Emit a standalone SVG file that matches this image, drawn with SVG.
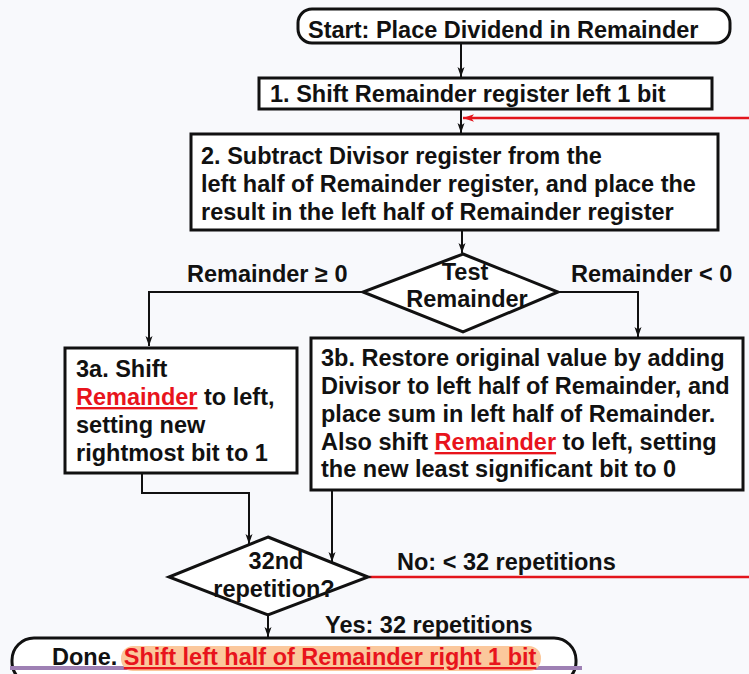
<svg xmlns="http://www.w3.org/2000/svg" width="749" height="674" viewBox="0 0 749 674">
<defs>
<style>
text{font-family:"Liberation Sans",Arial,sans-serif;font-weight:bold;font-size:23.5px;fill:#111}
.box{fill:#fff;stroke:#111;stroke-width:3}
.c{fill:none;stroke:#111;stroke-width:2}
.r{fill:none;stroke:#e3151c;stroke-width:2.5}
.red{fill:#e8141c;text-decoration:underline}
.mid{text-anchor:middle}
</style>
<marker id="ah" viewBox="0 0 10 10" refX="10" refY="5" markerWidth="10" markerHeight="10" markerUnits="userSpaceOnUse" orient="auto">
<path d="M0,1.5 L10,5 L0,8.5 L2.5,5 Z" fill="#111"/>
</marker>
<marker id="ahr" viewBox="0 0 10 10" refX="10" refY="5" markerWidth="11" markerHeight="11" markerUnits="userSpaceOnUse" orient="auto">
<path d="M0,1.5 L10,5 L0,8.5 L2.5,5 Z" fill="#e3151c"/>
</marker>
</defs>
<rect x="0" y="0" width="749" height="674" fill="#f8f9fc"/>

<g id="connectors">
<line class="c" x1="461" y1="43" x2="461" y2="77" marker-end="url(#ah)"/>
<line class="c" x1="461" y1="109" x2="461" y2="133" marker-end="url(#ah)"/>
<line class="r" x1="749" y1="118" x2="463" y2="118" marker-end="url(#ahr)"/>
<line class="c" x1="462" y1="230" x2="462" y2="253" marker-end="url(#ah)"/>
<polyline class="c" points="363,292 149,292 149,346" marker-end="url(#ah)"/>
<polyline class="c" points="558,292 638,292 638,337" marker-end="url(#ah)"/>
<polyline class="c" points="142,473 142,493 249,493 249,544" marker-end="url(#ah)"/>
<line class="c" x1="332" y1="490" x2="332" y2="562" marker-end="url(#ah)"/>
<line class="r" x1="369" y1="577" x2="749" y2="577"/>
<line class="c" x1="268" y1="615" x2="268" y2="637" marker-end="url(#ah)"/>
<text x="187" y="282">Remainder ≥ 0</text>
<text x="571" y="282">Remainder &lt; 0</text>
<text x="397" y="570">No: &lt; 32 repetitions</text>
<text x="325" y="633">Yes: 32 repetitions</text>
</g>

<g id="start">
<rect class="box" x="298" y="9" width="432" height="34" rx="14"/>
<text x="308" y="38">Start: Place Dividend in Remainder</text>
</g>

<g id="step1">
<rect class="box" x="259" y="78" width="453" height="31"/>
<text x="270" y="102">1. Shift Remainder register left 1 bit</text>
</g>

<g id="step2">
<rect class="box" x="191" y="134" width="527" height="96"/>
<text x="201" y="164">2. Subtract Divisor register from the</text>
<text x="201" y="192">left half of Remainder register, and place the</text>
<text x="201" y="220">result in the left half of Remainder register</text>
</g>

<g id="test">
<polygon points="463,254 558,292 463,332 363,292" fill="#fff" stroke="#111" stroke-width="3"/>
<text class="mid" x="465" y="280">Test</text>
<text class="mid" x="467" y="307">Remainder</text>
</g>

<g id="step3a">
<rect class="box" x="65" y="348" width="232" height="125"/>
<text x="76" y="377">3a. Shift</text>
<text x="76" y="405"><tspan class="red">Remainder</tspan> to left,</text>
<text x="76" y="433">setting new</text>
<text x="76" y="461">rightmost bit to 1</text>
</g>

<g id="step3b">
<rect class="box" x="311" y="338" width="432" height="152"/>
<text x="321" y="366">3b. Restore original value by adding</text>
<text x="321" y="394">Divisor to left half of Remainder, and</text>
<text x="321" y="422">place sum in left half of Remainder.</text>
<text x="321" y="450">Also shift <tspan class="red">Remainder</tspan> to left, setting</text>
<text x="321" y="477">the new least significant bit to 0</text>
</g>

<g id="rep">
<polygon points="268,537 368,577 268,615 169,577" fill="#fff" stroke="#111" stroke-width="3"/>
<text class="mid" x="276" y="569">32nd</text>
<text class="mid" x="274" y="597">repetition?</text>
</g>

<g id="done">
<rect class="box" x="12" y="638" width="564" height="46" rx="22"/>
<rect x="10" y="666" width="572" height="4" fill="#9e80b4"/>
<rect x="121" y="646" width="420" height="25" rx="12" fill="#fbc89c"/>
<text x="52" y="665">Done. <tspan class="red">Shift left half of Remainder right 1 bit</tspan></text>
</g>
</svg>
